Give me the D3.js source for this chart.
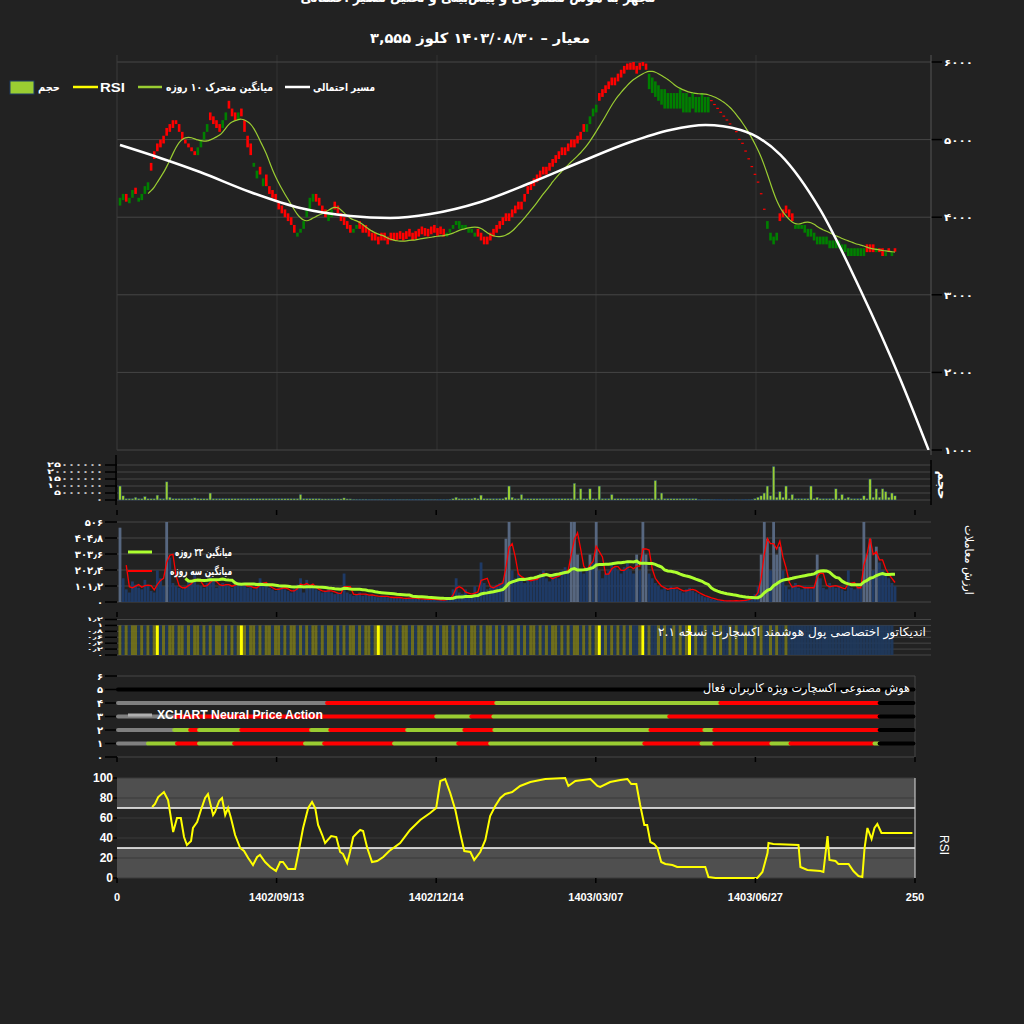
<!DOCTYPE html>
<html><head><meta charset="utf-8">
<script src="https://cdn.jsdelivr.net/npm/d3@7"></script>
<style>html,body{margin:0;padding:0;background:#222;}svg{display:block;}</style>
</head><body>
<svg id="c" width="1024" height="1024"></svg>
<script>
// ---------------- DATA ----------------
const titleLine1 = "مجهز به هوش مصنوعی و پیش‌بینی و تحلیل مسیر احتمالی";
const titleLine2 = "معیار – ۱۴۰۳/۰۸/۳۰ کلوز ۳,۵۵۵";
const closes = [
4250,4300,4200,4250,4350,4300,4250,4300,4400,4450,
4600,4750,4850,4900,4950,5050,5100,5150,5200,5100,
5000,4950,4900,4850,4800,4900,5000,5100,5200,5250,
5200,5150,5100,5250,5350,5400,5300,5250,5350,5300,
5100,4900,4800,4700,4600,4550,4500,4400,4300,4250,
4200,4100,4050,4000,3950,3900,3800,3800,3850,3950,
4100,4250,4300,4200,4150,4050,4000,4050,4100,4100,
4050,3950,3900,3850,3800,3850,3900,3850,3800,3800,
3750,3700,3700,3650,3700,3700,3650,3700,3700,3700,
3720,3700,3720,3750,3700,3720,3750,3780,3760,3750,
3780,3800,3760,3780,3750,3800,3850,3900,3950,3950,
3900,3900,3850,3850,3800,3750,3700,3650,3650,3700,
3750,3800,3850,3900,3950,3950,4000,4050,4100,4100,
4200,4300,4350,4400,4450,4500,4550,4550,4600,4650,
4700,4750,4800,4800,4850,4900,4900,4950,5000,5100,
5200,5300,5400,5450,5500,5550,5600,5650,5700,5700,
5750,5800,5850,5900,5900,5900,5850,5900,5950,5900,
5850,5800,5750,5700,5650,5650,5600,5600,5600,5600,
5650,5600,5600,5550,5600,5550,5550,5600,5550,5550,
5500,5450,5400,5350,5300,5250,5200,5150,5100,5000,
4950,4850,4750,4650,4550,4450,4300,4100,3950,3800,
3750,3800,3950,4000,4050,4000,3950,3900,3900,3900,
3900,3850,3850,3800,3750,3750,3750,3750,3700,3700,
3700,3700,3650,3650,3600,3600,3600,3600,3600,3600,
3550,3550,3550,3600,3550,3500,3550,3550,3550,3555];
const opens = [
4150,4220,4300,4180,4250,4380,4200,4220,4300,4350,
4700,4850,4950,5000,5050,5150,5200,5250,5250,5200,
5100,5000,4950,4900,4850,4800,4900,5000,5100,5350,
5300,5250,5200,5150,5250,5500,5400,5350,5250,5400,
5250,5050,4950,4650,4500,4650,4400,4550,4400,4350,
4300,4200,4150,4100,4050,4000,3900,3750,3800,3850,
4000,4100,4200,4300,4250,4150,4100,3950,4000,4200,
4150,4050,4000,3950,3900,3800,3850,3950,3900,3900,
3850,3800,3800,3750,3800,3800,3750,3800,3800,3800,
3820,3800,3820,3850,3800,3820,3850,3880,3860,3850,
3880,3900,3860,3880,3850,3750,3800,3850,3900,3850,
3850,3850,3800,3800,3750,3850,3800,3750,3750,3800,
3850,3900,3950,4000,4050,4050,4100,4150,4200,4200,
4300,4400,4450,4500,4550,4600,4650,4650,4700,4750,
4800,4850,4900,4900,4950,5000,5000,5050,5100,5200,
5100,5200,5300,5350,5600,5650,5700,5750,5800,5800,
5850,5900,5950,5980,5990,6000,5950,5990,6000,5980,
5650,5600,5550,5500,5450,5400,5400,5400,5400,5400,
5400,5350,5350,5350,5400,5350,5350,5350,5350,5350,
5510,5460,5410,5360,5310,5260,5210,5160,5110,5010,
4960,4860,4760,4660,4560,4460,4310,4110,3850,3700,
3650,3700,4050,4100,4150,4100,4050,3850,3850,3850,
3800,3750,3750,3700,3650,3650,3650,3650,3600,3600,
3600,3600,3550,3550,3500,3500,3500,3500,3500,3500,
3650,3650,3650,3550,3600,3600,3500,3600,3500,3600];
// probable path (مسیر احتمالی): day index / price
const projIdx   = [0,12.9,25.7,41.8,57.9,74,86.8,99.7,115.8,131.8,147.9,164,176.8,188.1,199.4,212.2,225,237.9,250.8,259.8];
const projPrice = [4930,4763,4582,4325,4119,4015,3990,4041,4196,4441,4711,4969,5124,5188,5124,4802,4093,3062,1902,1000];
// volume (millions of shares)
const volumeM = [
10,3,1,1,1,2,1,1,2.5,1, 1,1,3.5,1,1,13,2,1,1,1,
1,1,1,1,1.5,1,1,1,1,5, 1,1,1,1,1,1,1,1,1,1,
1,1,1,1,1,1,1,1,1,1, 1,1,1,1,1,1,1,1,4,1,
1,1,1,1,1,0.8,0.8,0.8,0.8,0.8, 0.8,0.8,1.5,0.8,0.8,0.6,0.6,0.6,0.6,0.6,
0.5,0.5,0.5,0.5,0.5,0.5,0.5,0.5,0.5,0.5, 0.5,0.5,0.5,0.5,0.5,0.5,0.5,0.5,0.5,0.5,
0.5,0.5,0.5,0.5,0.5,0.5,0.6,1,2,1, 1,1,1,1,1.5,1,3.5,1,1,1,
1,1,1,1,2,10,2,1,1,4, 1,1,1,1,1,1,1,1,1,1,
1,1,1,1,1,1,12,1,8,1, 1,8,1,1,10,1,1,1,4,1,
1,1,1,1,1,1,1,1,1,1, 1,1,14,1,5,1,1,1,1,1,
1,1,1,1,1,1,0.5,0.5,0.5,0.5, 0.3,0.3,0.2,0.2,0.1,0.1,0.2,0.1,0.2,0.1,
0.2,0.3,0.4,0.5,1,2,3,5,10,3, 24,2,6,2,10,1,4,1,1,1,
1,1,10,1,2,1,1,1,1,1, 8,1,4,1,2,1,1,1,1,3,
1,15,2,8,2,8,6,2,5,3];
// trading value (ارزش معاملات)
const tradeValue = [
470,150,80,60,130,110,90,80,140,100, 70,60,200,150,100,506,280,120,100,90,
80,100,130,120,180,110,100,90,120,160, 140,90,100,120,110,100,90,130,120,100,
110,90,100,80,90,150,120,100,90,80, 70,90,100,80,70,60,80,110,150,60,
140,110,90,80,70,60,70,80,60,50, 60,50,180,60,50,40,50,60,40,50,
40,45,35,30,40,35,30,25,30,30, 25,20,25,30,20,25,20,15,20,15,
20,15,10,15,10,20,30,80,150,60, 50,80,40,30,100,60,250,120,80,90,
100,110,120,130,400,506,200,150,180,150, 120,150,130,140,160,180,200,150,130,160,
180,150,200,220,180,506,506,300,200,180, 220,300,250,506,200,150,180,200,250,220,
200,180,220,250,200,180,300,200,506,300, 180,150,120,100,80,90,70,100,90,80,
70,60,80,90,70,60,50,40,30,30, 20,15,10,10,5,5,10,5,10,5,
10,15,20,30,50,100,300,506,400,200, 506,300,350,200,100,80,100,120,90,80,
100,90,80,100,300,150,90,80,120,100, 90,100,80,70,200,90,80,100,90,506,
300,400,200,350,250,200,180,150,120,100];
// smart-money indicator state: 0 = neutral, 1 = active, 2 = strong
const smartMoney = [
1,0,1,0,1,1,0,1,0,1, 0,1,2,0,1,0,1,1,0,1, 1,0,1,0,1,1,0,1,0,1, 0,1,1,0,1,0,1,0,1,2,
1,0,1,1,0,1,0,1,1,0, 1,1,0,1,0,1,1,0,1,0, 1,0,1,1,0,1,0,1,1,0, 1,0,1,0,1,1,0,1,0,1,
1,0,1,2,1,0,1,1,0,1, 0,1,1,0,1,0,1,1,0,1, 1,0,1,0,1,1,0,1,0,1, 0,1,0,1,1,0,1,0,1,1,
0,1,0,1,0,1,1,0,1,0, 1,0,1,1,0,1,0,1,0,1, 1,0,1,0,1,0,1,1,0,1, 0,1,0,1,2,0,1,0,1,0,
1,0,1,0,1,0,0,1,2,0, 1,0,0,1,0,1,0,0,1,0, 1,0,1,2,0,1,0,0,1,0, 0,1,0,1,0,0,1,0,1,0,
0,1,0,0,1,0,1,0,0,1, 0,1,0,0,1,0,
0,0,0,0,0,0,0,0,0,0, 0,0,0,0,0,0,0,0,0,0, 0,0,0,0,0,0,0,0,0,0, 0,0,0];
// Neural price action levels: [start day, end day, state]
const npaLevel1 = [[0,9.4,"n"],[9.4,18.5,"u"],[18.5,25.4,"d"],[25.4,36.4,"u"],[36.4,58.6,"d"],[58.6,64.6,"u"],[64.6,86.5,"d"],[86.5,106.6,"u"],[106.6,116.6,"d"],[116.6,164.9,"u"],[164.9,182.8,"d"],[182.8,186.8,"u"],[186.8,204.7,"d"],[204.7,210.7,"u"],[210.7,237,"d"],[237,238.6,"u"],[238.6,249.5,"x"]];
const npaLevel2 = [[0,17.6,"n"],[17.6,22.6,"u"],[22.6,25.4,"d"],[25.4,38.6,"u"],[38.6,60.5,"d"],[60.5,66.5,"u"],[66.5,90.6,"d"],[90.6,108.5,"u"],[108.5,117.9,"d"],[117.9,166.8,"u"],[166.8,183.7,"d"],[183.7,186.8,"u"],[186.8,238.6,"d"],[238.6,249.5,"x"]];
const npaLevel3 = [[0,18,"n"],[18,99.7,"d"],[99.7,110.7,"u"],[110.7,117.6,"d"],[117.6,172.7,"u"],[172.7,238.6,"d"],[238.6,249.5,"x"]];
const npaLevel4 = [[0,65.5,"n"],[65.5,118.5,"d"],[118.5,188.7,"u"],[188.7,238.6,"d"],[238.6,249.5,"x"]];
const npaLevel5 = [[0,249.5,"x"]];
// RSI readings: day index / value
const rsiIdx = [11,11.9,12.9,14.7,16,17.6,18.8,20,21,21.9,23.2,23.8,25.1,26.3,27.6,28.5,30.1,30.7,32,32.9,33.9,34.8,35.7,37,38.6,39.8,41.1,42.6,43.9,44.8,46.4,48,49.8,51.1,52,53.6,55.8,56.7,58.3,59.9,61.1,62.1,63,64.3,65.2,67.1,68.7,69.9,70.8,72.1,73,74,75.2,76.2,77.1,78.4,79.9,81.5,83.4,85.3,88.7,91.8,95,98.1,100,101.3,102.8,104.4,106,107.5,108.8,110.7,111.9,113.8,115.4,116.9,118.5,120.1,121.6,123.8,126.3,129.5,134.2,140.4,141.4,143.6,148.3,150.5,151.4,154.5,157.7,159.9,161.1,162.7,163.9,165.2,166.1,167.1,168.3,169.3,170.5,171.8,174,175.5,184.3,185.3,187.5,200.6,202.2,203.8,204.1,205.6,213.5,214.1,216.3,220.4,221.3,222.6,223.2,225.1,226,229.2,230.7,232.3,233.5,234.2,235.1,236.4,237.3,238.2,239.5,249.2];
const rsiVal = [71,74,81,86,78,46,60,60,41,33,37,50,56,68,80,84,63,66,77,80,63,70,60,43,30,27,20,13,21,23,16,11,7,16,16,9,9,23,50,70,76,70,53,43,35,42,41,26,24,15,26,41,45,48,47,30,16,17,21,27,35,48,58,65,70,97,99,85,68,45,27,26,18,26,38,62,72,80,84,86,92,96,99,100,92,97,99,92,91,96,98,99,94,94,73,53,53,36,34,30,16,14,13,11,11,1,0,0,6,25,35,34,33,11,8,7,6,42,18,17,14,14,7,2,1,30,50,39,50,54,45,45];
const priceTicks = [1000,2000,3000,4000,5000,6000];
const volTicks = [0,5e6,10e6,15e6,20e6,25e6];
const valueTicks = [0,101.2,202.4,303.6,404.8,506];
const smTicks = [0,0.2,0.4,0.6,0.8,1,1.2];
const npaTicks = [0,1,2,3,4,5,6];
const rsiTicks = [0,20,40,60,80,100];
const xTickIdx = [0,50,100,150,200,250];
const xTickLabels = ["0","1402/09/13","1402/12/14","1403/03/07","1403/06/27","250"];

// ---------------- DRAW ----------------
const fa = s => String(s).replace(/[0-9]/g, d => "۰۱۲۳۴۵۶۷۸۹"[+d]).replace(/\./g,"٫");
const FA = "DejaVu Sans, sans-serif";
const LAT = "Liberation Sans, Arial, sans-serif";
const svg = d3.select("#c");
svg.append("rect").attr("width",1024).attr("height",1024).attr("fill","#222222");

const xm = d3.scaleLinear().domain([0,249]).range([120,895]);
const xr = d3.scaleLinear().domain([0,250]).range([117,915]);
const L = 117, RM = 931, RR = 915;

function txt(g, x, y, s, o){
  const t = g.append("text").attr("x",x).attr("y",y).attr("fill","#fff").text(s);
  t.attr("font-family",o.f||FA).attr("font-size",o.s||11).attr("font-weight",o.b?"bold":"normal")
   .attr("text-anchor",o.a||"start");
  if(o.w) t.attr("textLength",o.w).attr("lengthAdjust","spacingAndGlyphs");
  if(o.tr) t.attr("transform",o.tr);
  return t;
}

// titles
txt(svg,478,2,titleLine1,{b:1,s:14,a:"middle",w:355});
txt(svg,480,43,titleLine2,{b:1,s:14,a:"middle",w:220});

// ---- main panel
const yM = d3.scaleLinear().domain([1000,6000]).range([450,62]);
const gM = svg.append("g");
[277,437,596,756].forEach(x=>gM.append("line").attr("x1",x).attr("x2",x).attr("y1",55).attr("y2",450).attr("stroke","#333"));
priceTicks.forEach(t=>{
  gM.append("line").attr("x1",L).attr("x2",RM).attr("y1",yM(t)).attr("y2",yM(t)).attr("stroke","#464646");
  gM.append("line").attr("x1",RM).attr("x2",RM+11).attr("y1",yM(t)).attr("y2",yM(t)).attr("stroke","#000").attr("stroke-width",1.5);
  txt(gM,944,yM(t)+4,fa(t),{b:1,s:10,w:29});
});
gM.append("line").attr("x1",L).attr("x2",L).attr("y1",55).attr("y2",450).attr("stroke","#3a3a3a");
gM.append("line").attr("x1",RM).attr("x2",RM).attr("y1",55).attr("y2",455).attr("stroke","#555");
svg.append("clipPath").attr("id","clipM").append("rect").attr("x",L).attr("y",55).attr("width",RM-L).attr("height",395);
const gC = gM.append("g").attr("clip-path","url(#clipM)");
closes.forEach((c,i)=>{
  const o = opens[i];
  const top = yM(Math.max(o,c)), bot = yM(Math.min(o,c));
  gC.append("rect").attr("x",xm(i)-1.3).attr("width",2.6).attr("y",top).attr("height",Math.max(1.2,bot-top))
    .attr("fill", c>=o ? "#008000" : "#ff0000");
});
const ma10 = closes.map((v,i)=> i<9 ? null : d3.mean(closes.slice(i-9,i+1)));
gC.append("path").attr("fill","none").attr("stroke","#9acd32").attr("stroke-width",1.2)
  .attr("d", d3.line().defined(d=>d[1]!=null).x(d=>xm(d[0])).y(d=>yM(d[1])).curve(d3.curveBasis)(ma10.map((v,i)=>[i,v])));
gC.append("path").attr("fill","none").attr("stroke","#fff").attr("stroke-width",2.5)
  .attr("d", d3.line().x((d,i)=>xm(projIdx[i])).y(d=>yM(d)).curve(d3.curveMonotoneX)(projPrice));

// main legend
const lg = svg.append("g");
lg.append("line").attr("x1",285).attr("x2",310).attr("y1",87).attr("y2",87).attr("stroke","#fff").attr("stroke-width",2.5);
txt(lg,375,91,"مسیر احتمالی",{b:1,s:11,a:"end",w:62});
lg.append("line").attr("x1",138).attr("x2",162).attr("y1",87).attr("y2",87).attr("stroke","#9acd32").attr("stroke-width",2.5);
txt(lg,273,91,"میانگین متحرک ۱۰ روزه",{b:1,s:11,a:"end",w:107});
lg.append("line").attr("x1",73).attr("x2",98).attr("y1",87).attr("y2",87).attr("stroke","#ffff00").attr("stroke-width",2.5);
txt(lg,100,92,"RSI",{b:1,s:13,f:LAT,w:25});
lg.append("rect").attr("x",10).attr("y",81).attr("width",24).attr("height",13).attr("fill","#9acd32").attr("stroke","#1d3a66");
txt(lg,60,91,"حجم",{b:1,s:11,a:"end",w:22});

// helper for left axis
function leftAxis(g, ticks, y, fmt, x0, x1, fs, cw){
  ticks.forEach(t=>{
    g.append("line").attr("x1",x0).attr("x2",x1).attr("y1",y(t)).attr("y2",y(t)).attr("stroke","#464646");
    g.append("line").attr("x1",105).attr("x2",x0).attr("y1",y(t)).attr("y2",y(t)).attr("stroke","#000").attr("stroke-width",1.5);
    const s = fmt(t);
    txt(g,103,y(t)+fs*0.35,s,{b:1,s:fs,a:"end",w:cw? s.length*cw : null});
  });
}
function bottomTicks(y){
  xTickIdx.forEach(t=>svg.append("line").attr("x1",xr(t)).attr("x2",xr(t)).attr("y1",y).attr("y2",y+5).attr("stroke","#000").attr("stroke-width",1.5));
}

// ---- volume panel
const yV = d3.scaleLinear().domain([0,25e6]).range([500,465]);
const gV = svg.append("g");
leftAxis(gV, volTicks, yV, t=>fa(t), L, RM, 7, 7);
volumeM.forEach((v,i)=>{
  gV.append("rect").attr("x",xm(i)-1.3).attr("width",2.6).attr("y",yV(v*1e6)).attr("height",500-yV(v*1e6))
    .attr("fill","#9acd32").attr("stroke","#1d3a66").attr("stroke-width",0.5);
});
gV.append("line").attr("x1",RM).attr("x2",RM).attr("y1",460).attr("y2",505).attr("stroke","#000").attr("stroke-width",1.5);
gV.append("line").attr("x1",L-1).attr("x2",L-1).attr("y1",455).attr("y2",505).attr("stroke","#000").attr("stroke-width",1.5);
txt(svg,0,0,"حجم",{b:1,s:13,a:"middle",tr:"translate(938,485) rotate(90)"});

// ---- trade value panel
const yT = d3.scaleLinear().domain([0,506]).range([602,522]);
const gT = svg.append("g");
leftAxis(gT, valueTicks, yT, t=>fa(t), L, RM, 10);
svg.append("clipPath").attr("id","clipT").append("rect").attr("x",L).attr("y",520).attr("width",RM-L).attr("height",82);
const gTc = gT.append("g").attr("clip-path","url(#clipT)");
tradeValue.forEach((v,i)=>{
  gTc.append("rect").attr("x",xm(i)-1.4).attr("width",2.8).attr("y",yT(v)).attr("height",602-yT(v))
    .attr("fill", v>=300 ? "#5b6b86" : "#1f3c6a").attr("opacity",0.95);
});
const ma22 = tradeValue.map((v,i)=> i<21 ? null : d3.mean(tradeValue.slice(i-21,i+1)));
const ma3 = tradeValue.map((v,i)=> i<2 ? null : d3.mean(tradeValue.slice(i-2,i+1)));
gTc.append("path").attr("fill","none").attr("stroke","#ff0000").attr("stroke-width",1.3)
  .attr("d", d3.line().defined(d=>d!=null).x((d,i)=>xm(i)).y(d=>yT(d))(ma3));
gTc.append("path").attr("fill","none").attr("stroke","#adff2f").attr("stroke-width",3)
  .attr("d", d3.line().defined(d=>d!=null).x((d,i)=>xm(i)).y(d=>yT(d))(ma22));
const lg2 = svg.append("g");
lg2.append("line").attr("x1",128).attr("x2",152).attr("y1",552).attr("y2",552).attr("stroke","#adff2f").attr("stroke-width",3);
txt(lg2,232,556,"میانگین ۲۲ روزه",{b:1,s:11,a:"end",w:57});
lg2.append("line").attr("x1",128).attr("x2",152).attr("y1",571).attr("y2",571).attr("stroke","#ff0000").attr("stroke-width",2);
txt(lg2,232,575,"میانگین سه روزه",{b:1,s:11,a:"end",w:62});
txt(svg,0,0,"ارزش معاملات",{s:12,a:"middle",w:70,tr:"translate(965,560) rotate(90)"});
bottomTicks(510);

// ---- smart money stripes
const yS = d3.scaleLinear().domain([0,1.2]).range([655,619.5]);
const gS = svg.append("g");
leftAxis(gS, smTicks, yS, t=>fa(t===0?"0":(t===1?"1":t.toFixed(1))), L, RM, 5.4, 5.5);
const smColors = ["#1f3a5e","#76751c","#ffff00"];
smartMoney.forEach((v,i)=>{
  gS.append("rect").attr("x",xm(i)-1.56).attr("width",3.12).attr("y",yS(1)).attr("height",yS(0)-yS(1))
    .attr("fill",smColors[v]).attr("opacity",v===2?1:0.9);
});
txt(gS,926,636,"اندیکاتور اختصاصی پول هوشمند اکسچارت نسخه ۲.۱",{s:12,a:"end",w:268});
bottomTicks(612);

// ---- neural price action
const y4 = d3.scaleLinear().domain([0,6]).range([757,676]);
const g4 = svg.append("g");
leftAxis(g4, npaTicks, y4, t=>fa(t), L, RR, 10);
g4.append("line").attr("x1",RR).attr("x2",RR).attr("y1",676).attr("y2",757).attr("stroke","#464646");
const npaColor = {n:"#808080",u:"#9acd32",d:"#ff0000",x:"#000000"};
[[1,npaLevel1],[2,npaLevel2],[3,npaLevel3],[4,npaLevel4],[5,npaLevel5]].forEach(([lv,segs])=>{
  segs.forEach(s=>{
    g4.append("line").attr("x1",xr(s[0])+1).attr("x2",xr(s[1])).attr("y1",y4(lv)).attr("y2",y4(lv))
      .attr("stroke",npaColor[s[2]]).attr("stroke-width",4).attr("stroke-linecap","round");
  });
});
g4.append("line").attr("x1",128).attr("x2",152).attr("y1",715).attr("y2",715).attr("stroke","#b0b0b0").attr("stroke-width",3);
txt(g4,157,719,"XCHART Neural Price Action",{b:1,s:12,f:LAT,w:166});
txt(g4,910,692,"هوش مصنوعی اکسچارت ویژه کاربران فعال",{s:12,a:"end",w:207});
bottomTicks(757);

// ---- RSI
const yR = d3.scaleLinear().domain([0,100]).range([878,778]);
const gR = svg.append("g");
gR.append("rect").attr("x",L).attr("y",yR(100)).attr("width",RR-L).attr("height",yR(70)-yR(100)).attr("fill","#4f4f4f");
gR.append("rect").attr("x",L).attr("y",yR(30)).attr("width",RR-L).attr("height",yR(0)-yR(30)).attr("fill","#4f4f4f");
gR.append("rect").attr("x",L).attr("y",yR(70)).attr("width",RR-L).attr("height",yR(30)-yR(70)).attr("fill","#262626");
rsiTicks.forEach(t=>{
  gR.append("line").attr("x1",L).attr("x2",RR).attr("y1",yR(t)).attr("y2",yR(t)).attr("stroke","#3a3a3a");
  gR.append("line").attr("x1",L-5).attr("x2",L).attr("y1",yR(t)).attr("y2",yR(t)).attr("stroke","#000").attr("stroke-width",1.5);
  txt(gR,113,yR(t)+4,String(t),{b:1,s:12,f:LAT,a:"end"});
});
[30,70].forEach(t=>gR.append("line").attr("x1",L).attr("x2",RR).attr("y1",yR(t)).attr("y2",yR(t)).attr("stroke","#fff").attr("stroke-width",1.5));
gR.append("line").attr("x1",RR).attr("x2",RR).attr("y1",778).attr("y2",878).attr("stroke","#ddd");
gR.append("path").attr("fill","none").attr("stroke","#ffff00").attr("stroke-width",2)
  .attr("d", d3.line().x((d,i)=>xr(rsiIdx[i])).y(d=>yR(d))(rsiVal));
bottomTicks(878);
xTickIdx.forEach((t,i)=>txt(svg,xr(t),901,xTickLabels[i],{b:1,s:11,f:LAT,a:"middle"}));
txt(svg,0,0,"RSI",{s:12,f:LAT,a:"middle",tr:"translate(940,845) rotate(90)"});
</script>
</body></html>
